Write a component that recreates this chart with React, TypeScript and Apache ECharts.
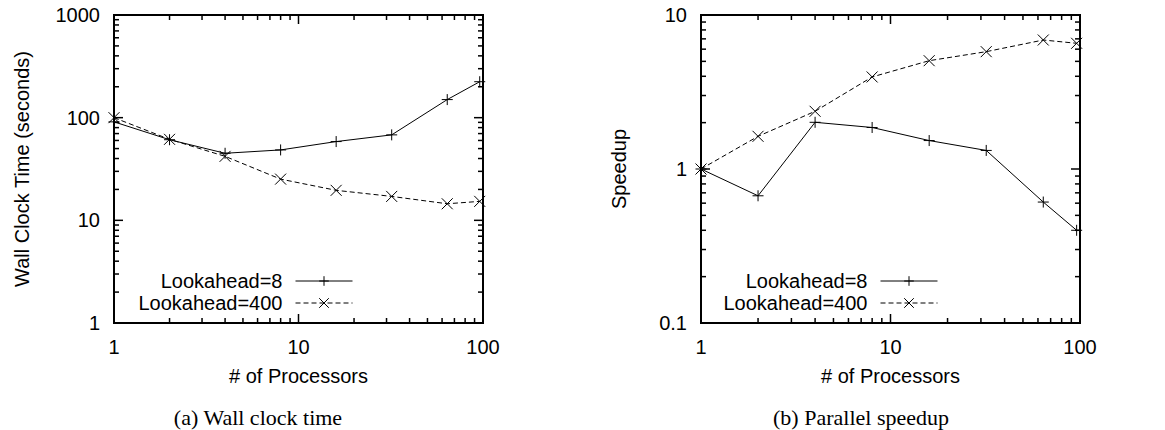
import React, { useEffect, useRef } from "react";
import * as echarts from "echarts";

const procs = [1, 2, 4, 8, 16, 32, 64, 96];
const time8 = [91, 61, 45, 48.5, 58.5, 68, 150, 224];
const time400 = [100, 61.5, 42, 25.2, 19.6, 17.1, 14.5, 15.3];
const speed8 = [1.0, 0.67, 2.01, 1.86, 1.53, 1.32, 0.61, 0.4];
const speed400 = [1.0, 1.63, 2.37, 3.96, 5.05, 5.78, 6.88, 6.55];

const seriesNames = ["Lookahead=8", "Lookahead=400"];
const captions = ["(a) Wall clock time", "(b) Parallel speedup"];
const xName = "# of Processors";
const yNames = ["Wall Clock Time (seconds)", "Speedup"];

const xTicks = [1, 2, 3, 4, 5, 6, 7, 8, 9, 10, 20, 30, 40, 50, 60, 70, 80, 90, 100];
const xMajor = [1, 10, 100];
const yTimeTicks = [1, 2, 3, 4, 5, 6, 7, 8, 9, 10, 20, 30, 40, 50, 60, 70, 80, 90, 100, 200, 300, 400, 500, 600, 700, 800, 900, 1000];
const yTimeMajor = [1, 10, 100, 1000];
const ySpeedTicks = [0.1, 0.2, 0.3, 0.4, 0.5, 0.6, 0.7, 0.8, 0.9, 1, 2, 3, 4, 5, 6, 7, 8, 9, 10];
const ySpeedMajor = [0.1, 1, 10];

const FONT = "'Liberation Sans', Arial, Helvetica, sans-serif";
const FS = 20;
const PLUS = "path://M5,0L5,10M0,5L10,5";
const CROSS = "path://M0,0L10,10M10,0L0,10";
const TW = 1.5;

const fmt = (v: number) => String(+Number(v).toPrecision(6));

function lineSeries(name: string, grid: number, ys: number[], dashed: boolean, symbol: string) {
  return {
    name,
    type: "line",
    xAxisIndex: grid,
    yAxisIndex: grid,
    data: procs.map((p, i) => [p, ys[i]]),
    symbol,
    symbolSize: 11,
    showAllSymbol: true,
    lineStyle: { color: "#000", width: 1, type: dashed ? [5, 3] : "solid" },
    itemStyle: { color: "transparent", borderColor: "#000", borderWidth: 1 },
    z: 3,
  };
}

export default function App() {
  const ref = useRef<HTMLDivElement>(null);
  useEffect(() => {
    if (!ref.current) return;
    const chart = echarts.init(ref.current, null, { renderer: "svg" });
    const xAxisBase = (grid: number) => ({
      type: "log",
      logBase: 10,
      gridIndex: grid,
      min: 1,
      max: 100,
      name: xName,
      nameLocation: "middle",
      nameGap: 43,
      nameTextStyle: { fontFamily: FONT, fontSize: FS, color: "#000" },
      axisLine: { show: false },
      axisTick: { show: false },
      splitLine: { show: false },
      axisLabel: { fontFamily: FONT, fontSize: FS, color: "#000", margin: 14, formatter: fmt },
    });
    const yAxisBase = (grid: number, min: number, max: number, gap: number) => ({
      type: "log",
      logBase: 10,
      gridIndex: grid,
      min,
      max,
      name: yNames[grid],
      nameLocation: "middle",
      nameGap: gap,
      nameTextStyle: { fontFamily: FONT, fontSize: FS, color: "#000" },
      axisLine: { show: false },
      axisTick: { show: false },
      splitLine: { show: false },
      axisLabel: { fontFamily: FONT, fontSize: FS, color: "#000", margin: 14, formatter: fmt },
    });
    const legendBase = (right: number) => ({
      orient: "vertical",
      align: "right",
      right,
      top: 271,
      padding: 0,
      itemWidth: 57,
      itemHeight: 12,
      itemGap: 2,
      selectedMode: false,
      data: seriesNames,
      lineStyle: { width: 1 },
      itemStyle: { color: "transparent", borderColor: "#000", borderWidth: 1 },
      textStyle: { fontFamily: FONT, fontSize: FS, lineHeight: 20, color: "#000", padding: [0, 8, 0, 0] },
    });
    const grids = [
      { left: 114, top: 15, width: 369, height: 308 },
      { left: 701, top: 15, width: 379, height: 308 },
    ];
    chart.setOption({
      animation: false,
      grid: grids.map((g) => ({ ...g, show: true, borderColor: "#000", borderWidth: 2, backgroundColor: "transparent" })),
      xAxis: [xAxisBase(0), xAxisBase(1)],
      yAxis: [yAxisBase(0, 1, 1000, 82), yAxisBase(1, 0.1, 10, 72)],
      legend: [legendBase(812), legendBase(227)],
      series: [
        lineSeries(seriesNames[0], 0, time8, false, PLUS),
        lineSeries(seriesNames[1], 0, time400, true, CROSS),
        lineSeries(seriesNames[0], 1, speed8, false, PLUS),
        lineSeries(seriesNames[1], 1, speed400, true, CROSS),
      ],
    });

    // Tick marks on all four sides, positioned through the axes' own log scales.
    const els: any[] = [];
    const rect = (x: number, y: number, w: number, h: number) => {
      if ([x, y, w, h].every((n) => isFinite(n))) {
        els.push({ type: "rect", shape: { x, y, width: w, height: h }, style: { fill: "#000" } });
      }
    };
    const toPx = (gi: number, x: number, y: number): number[] => {
      const p = chart.convertToPixel({ xAxisIndex: gi, yAxisIndex: gi } as any, [x, y]) as any;
      return Array.isArray(p) ? p : [NaN, NaN];
    };
    const addTicks = (gi: number, yTicks: number[], yMajor: number[], yMin: number, yMax: number) => {
      xTicks.forEach((v) => {
        const len = xMajor.includes(v) ? 9 : 5;
        const b = toPx(gi, v, yMin);
        const t = toPx(gi, v, yMax);
        rect(b[0] - TW / 2, b[1] - len, TW, len);
        rect(t[0] - TW / 2, t[1], TW, len);
      });
      yTicks.forEach((v) => {
        const len = yMajor.includes(v) ? 9 : 5;
        const l = toPx(gi, 1, v);
        const r = toPx(gi, 100, v);
        rect(l[0], l[1] - TW / 2, len, TW);
        rect(r[0] - len, r[1] - TW / 2, len, TW);
      });
    };
    addTicks(0, yTimeTicks, yTimeMajor, 1, 1000);
    addTicks(1, ySpeedTicks, ySpeedMajor, 0.1, 10);

    const capFont = "22px 'Liberation Serif', 'DejaVu Serif', serif";
    const capCenters = [258, 861];
    captions.forEach((c, i) => {
      els.push({
        type: "text",
        style: { text: c, x: capCenters[i], y: 417, align: "center", verticalAlign: "middle", font: capFont, fill: "#000" },
      });
    });

    chart.setOption({ graphic: els });
    return () => chart.dispose();
  }, []);
  return <div ref={ref} style={{ position: "absolute", left: 0, top: 0, width: 1165, height: 430 }} />;
}
